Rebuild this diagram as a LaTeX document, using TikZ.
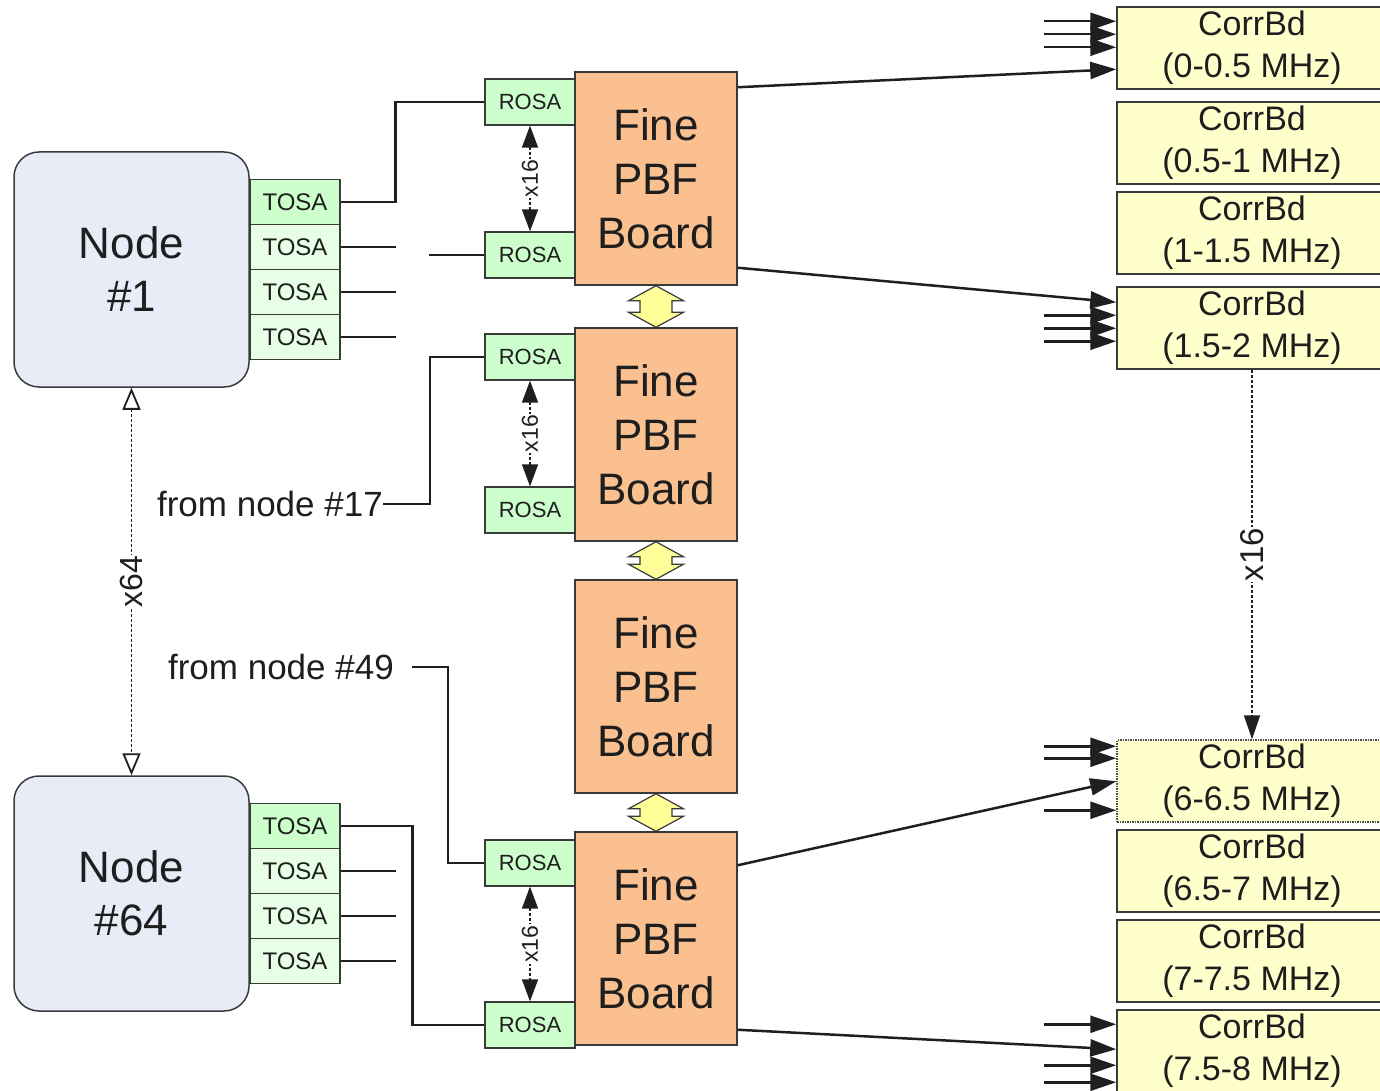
\documentclass[tikz,border=0pt]{standalone}
\usepackage{fontspec}
\setmainfont{Liberation Sans}
\usetikzlibrary{arrows.meta,calc}
\definecolor{nodefill}{HTML}{E8ECF7}
\definecolor{bordergray}{HTML}{3A3A3A}
\definecolor{tosahi}{HTML}{CCFFCC}
\definecolor{tosalight}{HTML}{E6FFE6}
\definecolor{rosagreen}{HTML}{CCFFCC}
\definecolor{boardorange}{HTML}{FAC090}
\definecolor{corryellow}{HTML}{FFFFCC}
\definecolor{blockyellow}{HTML}{FFFF99}
\definecolor{txt}{HTML}{1E1E1E}
\begin{document}
\begin{tikzpicture}[x=1pt,y=-1pt,
  every node/.style={text=txt},
  mainnode/.style={draw=bordergray, line width=1.5pt, fill=nodefill, rounded corners=25pt,
    minimum width=235pt, minimum height=235pt, inner sep=0pt, align=center,
    font=\fontsize{44}{53}\selectfont},
  tosa/.style={draw=bordergray, line width=1.3pt, fill=tosalight, minimum width=90pt,
    minimum height=45pt, inner sep=0pt, font=\fontsize{24}{28}\selectfont},
  rosa/.style={draw=bordergray, line width=1.3pt, fill=rosagreen, minimum width=90pt,
    minimum height=46pt, inner sep=0pt, font=\fontsize{22}{26}\selectfont},
  board/.style={draw=bordergray, line width=1.5pt, fill=boardorange, minimum width=162pt,
    minimum height=213pt, inner sep=0pt, align=center, font=\fontsize{44}{54}\selectfont},
  corr/.style={draw=bordergray, line width=1.5pt, fill=corryellow, minimum width=270pt,
    minimum height=82pt, inner sep=0pt, align=center, font=\fontsize{34}{42}\selectfont},
  wire/.style={line width=2.5pt, draw=black!88},
  bigarrow/.style={wire, -{Triangle[length=26pt,width=17pt]}},
  multline/.style={line width=1.8pt, dash pattern=on 3pt off 2pt, draw=black!88},
  blockarrow/.style={draw=bordergray, line width=1.2pt, fill=blockyellow, line join=miter},
  lbl/.style={font=\fontsize{35}{40}\selectfont, inner sep=0pt}
]
\useasboundingbox (0,0) rectangle (1380,1091);

% main nodes
\node[mainnode] (n1) at (131.5,269.5) {Node\\\#1};
\node[tosa, fill=tosahi] (t11) at (295,202) {TOSA};
\node[tosa] (t12) at (295,247) {TOSA};
\node[tosa] (t13) at (295,292) {TOSA};
\node[tosa] (t14) at (295,337) {TOSA};

\node[mainnode] (n64) at (131.5,893.5) {Node\\\#64};
\node[tosa, fill=tosahi] (t61) at (295,826) {TOSA};
\node[tosa] (t62) at (295,871) {TOSA};
\node[tosa] (t63) at (295,916) {TOSA};
\node[tosa] (t64) at (295,961) {TOSA};

% boards
\node[board] (b1) at (656,178.5) {Fine\\PBF\\Board};
\node[board] (b2) at (656,434.5) {Fine\\PBF\\Board};
\node[board] (b3) at (656,686.5) {Fine\\PBF\\Board};
\node[board] (b4) at (656,938.5) {Fine\\PBF\\Board};

% ROSA
\node[rosa] (r1) at (530,102) {ROSA};
\node[rosa] (r2) at (530,255) {ROSA};
\node[rosa] (r3) at (530,357) {ROSA};
\node[rosa] (r4) at (530,510) {ROSA};
\node[rosa] (r5) at (530,863) {ROSA};
\node[rosa] (r6) at (530,1025) {ROSA};

% correlator boards
\node[corr] (c1) at (1252,48) {CorrBd\\(0-0.5 MHz)};
\node[corr] (c2) at (1252,143) {CorrBd\\(0.5-1 MHz)};
\node[corr] (c3) at (1252,233) {CorrBd\\(1-1.5 MHz)};
\node[corr] (c4) at (1252,328) {CorrBd\\(1.5-2 MHz)};
\node[corr, densely dotted, draw=black!70] (c5) at (1252,781) {CorrBd\\(6-6.5 MHz)};
\node[corr] (c6) at (1252,871) {CorrBd\\(6.5-7 MHz)};
\node[corr] (c7) at (1252,961) {CorrBd\\(7-7.5 MHz)};
\node[corr] (c8) at (1252,1051) {CorrBd\\(7.5-8 MHz)};

% labels
\node[lbl, anchor=east] (f17) at (383,504) {from node \#17};
\node[lbl, anchor=east] (f49) at (394,667) {from node \#49};

% wires from node 1
\draw[wire] (t11.east) -- ++(55,0) |- (r1.west);
\draw[wire] (t12.east) -- ++(55,0);
\draw[wire] (t13.east) -- ++(55,0);
\draw[wire] (t14.east) -- ++(55,0);
\draw[wire] (r2.west) -- ++(-55,0);
\draw[wire] (f17.east) -- ++(47,0) |- (r3.west);
\draw[wire] ([xshift=18pt]f49.east) -- ++(36,0) |- (r5.west);
% wires from node 64
\draw[wire] (t61.east) -- ++(72,0) |- (r6.west);
\draw[wire] (t62.east) -- ++(55,0);
\draw[wire] (t63.east) -- ++(55,0);
\draw[wire] (t64.east) -- ++(55,0);

% multiplicity arrows between ROSA
\foreach \a/\b in {r1/r2, r3/r4, r5/r6}{
  \draw[line width=1.5pt, dash pattern=on 3pt off 2pt, draw=black!88,
    {Triangle[length=22pt,width=16pt]}-{Triangle[length=22pt,width=16pt]}]
    (\a.south) -- (\b.north)
    node[midway, rotate=90, fill=white, inner sep=1pt, font=\fontsize{23}{27}\selectfont] {x16};
}

% x64
\draw[multline, {Triangle[open,length=22pt,width=18pt,fill=white]}-{Triangle[open,length=22pt,width=18pt,fill=white]}]
  (n1.south) -- (n64.north)
  node[midway, rotate=90, fill=white, inner sep=1pt, font=\fontsize{32}{38}\selectfont] {x64};

% x16 right
\draw[multline, -{Triangle[length=24pt,width=16pt]}]
  (c4.south) -- (c5.north)
  node[midway, rotate=90, fill=white, inner sep=1pt, font=\fontsize{33}{38}\selectfont] {x16};

% block double arrows between boards
\foreach \a/\b in {b1/b2, b2/b3, b3/b4}{
  \draw[blockarrow] (\a.south) -- ++(27.5,15) -- ++(-11.5,0) -- ($(\b.north)+(16,-15)$)
    -- ++(11.5,0) -- (\b.north) -- ++(-27.5,-15) -- ++(11.5,0)
    -- ($(\a.south)+(-16,15)$) -- ++(-11.5,0) -- cycle;
}

% arrows into correlator boards
\draw[bigarrow] ($(b1.north east)+(0,16)$) -- ($(c1.north west)+(0,63)$);
\draw[bigarrow] ($(b1.south east)+(0,-18)$) -- ($(c4.north west)+(0,16)$);
\draw[bigarrow] ($(b4.north east)+(0,34)$) -- ($(c5.north west)+(0,42)$);
\draw[bigarrow] ($(b4.south east)+(0,-16)$) -- ($(c8.north west)+(0,40)$);
\foreach \o in {15,28,41}
  \draw[bigarrow] ($(c1.north west)+(-72,\o)$) -- ($(c1.north west)+(0,\o)$);
\foreach \o in {29,42,55}
  \draw[bigarrow] ($(c4.north west)+(-72,\o)$) -- ($(c4.north west)+(0,\o)$);
\foreach \o in {7,19,71}
  \draw[bigarrow] ($(c5.north west)+(-72,\o)$) -- ($(c5.north west)+(0,\o)$);
\foreach \o in {15,56,73}
  \draw[bigarrow] ($(c8.north west)+(-72,\o)$) -- ($(c8.north west)+(0,\o)$);
\end{tikzpicture}
\end{document}
